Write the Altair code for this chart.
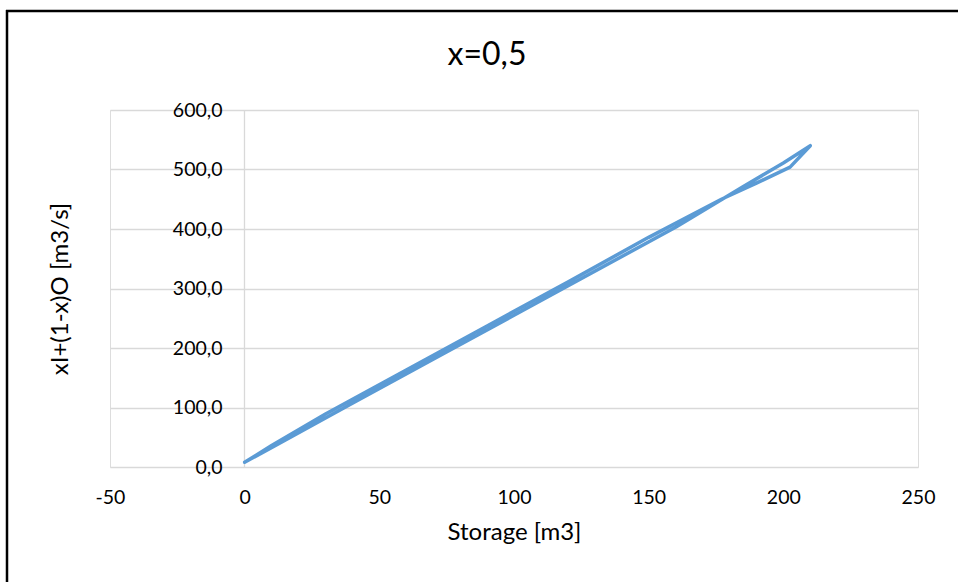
import altair as alt
import pandas as pd

# Values (Storage [m3] vs xI+(1-x)O [m3/s])
storage = [0, 15, 40, 70, 100, 130, 160, 185, 200, 210,
           202.5, 190, 177, 150, 120, 90, 60, 30, 10, 0]
weighted = [8, 45, 107, 181, 255, 329, 403, 471, 511, 540,
            504, 477, 450, 386, 311, 237, 163, 89, 36, 8]

x_ticks = [-50, 0, 50, 100, 150, 200, 250]
y_ticks = [0, 100, 200, 300, 400, 500, 600]

df = pd.DataFrame({"S": storage, "Q": weighted, "i": list(range(len(storage)))})
one = pd.DataFrame({"k": [0]})

FONT = "Lato"
W, H = 808, 357
PAD_L, PAD_T = 110, 110

xscale = alt.Scale(domain=[-50, 250], nice=False, zero=False)
yscale = alt.Scale(domain=[0, 600], nice=False)

line = alt.Chart(df).mark_line(
    color="#5B9BD5", strokeWidth=3.5, strokeCap="round", strokeJoin="round"
).encode(
    x=alt.X("S:Q", scale=xscale, axis=alt.Axis(
        values=x_ticks, title="Storage [m3]", grid=False, domain=False, ticks=False,
        labelFlush=False, labelExpr="replace(format(datum.value, 'd'), '\u2212', '-')",
        labelFont=FONT, labelFontSize=19.5, labelColor="#000000", labelPadding=21,
        titleFont=FONT, titleFontSize=24, titleFontWeight="normal", titleColor="#000000",
        titlePadding=14,
    )),
    y=alt.Y("Q:Q", scale=yscale, axis=alt.Axis(
        values=y_ticks, title="xI+(1-x)O [m3/s]", grid=True, gridColor="#D9D9D9",
        gridWidth=1.3, domain=True, domainColor="#D9D9D9", domainWidth=1.3,
        ticks=False, offset=-134, labelFlush=False,
        labelExpr="replace(format(datum.value, '.1f'), '.', ',')",
        labelFont=FONT, labelFontSize=19.5, labelColor="#000000", labelPadding=22,
        titleFont=FONT, titleFontSize=24, titleFontWeight="normal", titleColor="#000000",
        titleAngle=270, titleX=-184, titleY=H / 2, titleAlign="center",
        titleBaseline="middle",
    )),
    order="i:O",
)

frame_left = alt.Chart(one).mark_rule(color="#000000", strokeWidth=2.5).encode(
    x=alt.value(7 - PAD_L), y=alt.value(10 - PAD_T), y2=alt.value(582 - PAD_T)
)
frame_top = alt.Chart(one).mark_rule(color="#000000", strokeWidth=2.5).encode(
    y=alt.value(11 - PAD_T), x=alt.value(6 - PAD_L), x2=alt.value(958 - PAD_L)
)

chart = alt.layer(line, frame_left, frame_top).properties(
    width=W, height=H,
    title=alt.TitleParams(
        "x=0,5", font=FONT, fontSize=32, fontWeight="normal", color="#000000",
        anchor="middle", frame="group", dx=-27, offset=0, dy=88, baseline="alphabetic",
    ),
    autosize=alt.AutoSizeParams(type="none"),
    padding={"left": PAD_L, "top": PAD_T, "right": 40, "bottom": 115},
).configure_view(stroke=None).configure(background="#FFFFFF")

chart.save("out.html", embed_options={"renderer": "svg", "actions": False})
